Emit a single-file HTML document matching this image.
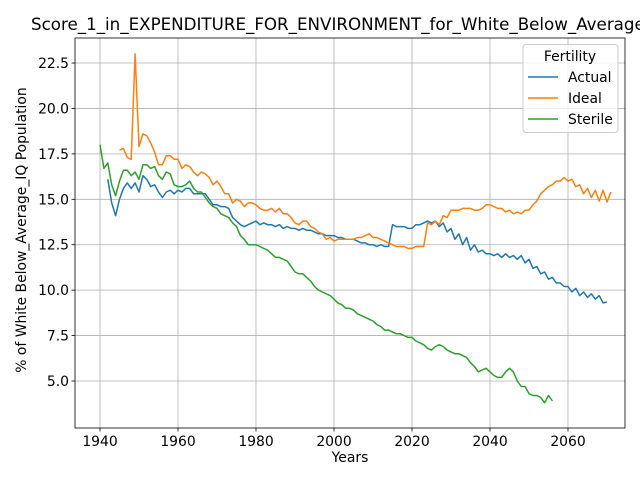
<!DOCTYPE html>
<html><head><meta charset="utf-8"><style>
body{margin:0;background:#fff;font-family:"Liberation Sans","DejaVu Sans",sans-serif;overflow:hidden}
svg text{font-family:"DejaVu Sans","Liberation Sans",sans-serif}
</style></head><body>
<svg id="chart" width="640" height="480" xmlns="http://www.w3.org/2000/svg">
<rect width="640" height="480" fill="#fff"/>
<g id="grid"></g><g id="series"></g><g id="axes"></g>
</svg>
<script>
const xTicks=[1940,1960,1980,2000,2020,2040,2060];
const yTicks=[5.0,7.5,10.0,12.5,15.0,17.5,20.0,22.5];
const actualStart=1942;
const actualValues=[16.1,14.8,14.1,15.0,15.6,15.9,15.6,15.9,15.4,16.3,16.1,15.7,15.8,15.4,15.1,15.4,15.5,15.3,15.5,15.4,15.6,15.6,15.3,15.3,15.3,15.3,15.0,14.7,14.7,14.6,14.6,14.5,14.0,13.8,13.6,13.5,13.6,13.7,13.8,13.6,13.7,13.6,13.6,13.5,13.6,13.4,13.5,13.4,13.4,13.3,13.4,13.3,13.3,13.2,13.1,13.1,13.0,13.0,13.0,12.9,12.9,12.8,12.8,12.8,12.7,12.6,12.6,12.5,12.5,12.4,12.5,12.4,12.4,13.6,13.5,13.5,13.5,13.4,13.4,13.6,13.6,13.7,13.8,13.7,13.8,13.5,13.7,13.2,13.4,12.8,13.1,12.5,12.9,12.2,12.5,12.1,12.2,12.0,12.0,11.9,12.0,11.8,12.0,11.8,11.9,11.7,11.9,11.5,11.7,11.2,11.3,10.9,11.0,10.6,10.7,10.4,10.4,10.2,10.2,9.9,10.1,9.7,9.9,9.6,9.8,9.5,9.7,9.3,9.35];
const idealStart=1945;
const idealValues=[17.7,17.8,17.3,17.2,23.0,17.9,18.6,18.5,18.1,17.6,16.9,16.9,17.4,17.4,17.2,17.2,16.7,16.9,16.8,16.5,16.3,16.5,16.4,16.2,15.8,16.0,15.7,15.3,15.3,14.8,15.0,14.9,14.6,14.8,14.8,14.7,14.5,14.4,14.4,14.5,14.3,14.5,14.2,14.2,14.0,13.7,13.6,13.8,13.8,13.5,13.4,13.2,13.1,12.8,12.9,12.7,12.8,12.8,12.8,12.8,12.8,12.9,12.9,13.0,13.1,12.9,12.9,12.8,12.7,12.6,12.5,12.4,12.4,12.4,12.3,12.3,12.4,12.4,12.4,13.7,13.6,13.8,13.6,14.1,14.0,14.4,14.4,14.4,14.5,14.5,14.5,14.4,14.4,14.5,14.7,14.7,14.6,14.5,14.5,14.3,14.4,14.2,14.3,14.2,14.4,14.4,14.7,14.9,15.3,15.5,15.7,15.8,16.0,16.0,16.2,16.0,16.1,15.7,15.8,15.3,15.6,15.1,15.5,14.9,15.5,14.85,15.4];
const sterileStart=1940;
const sterileValues=[18.0,16.7,17.0,15.8,15.2,16.0,16.6,16.6,16.3,16.5,16.1,16.9,16.9,16.7,16.8,16.3,16.1,16.5,16.4,15.8,15.7,15.7,15.8,16.0,15.6,15.4,15.4,15.1,14.8,14.6,14.5,14.2,14.1,14.0,13.7,13.5,13.0,12.8,12.5,12.5,12.5,12.4,12.3,12.2,12.0,11.8,11.8,11.7,11.6,11.3,11.0,10.9,10.9,10.7,10.5,10.2,10.0,9.9,9.8,9.7,9.5,9.3,9.2,9.0,9.0,8.9,8.7,8.6,8.5,8.4,8.3,8.1,8.0,7.8,7.8,7.7,7.6,7.6,7.5,7.4,7.4,7.2,7.1,7.0,6.8,6.7,6.9,7.0,6.9,6.7,6.6,6.5,6.5,6.4,6.3,6.0,5.8,5.5,5.6,5.7,5.5,5.3,5.2,5.2,5.5,5.7,5.5,5.0,4.7,4.7,4.3,4.2,4.2,4.1,3.8,4.2,3.9];

const L=75,R=625,T=38,B=428;
const X=y=>100+(y-1940)*3.9;
const Y=v=>381-(v-5)*18.17;
const NS='http://www.w3.org/2000/svg';
function mk(tag,attrs,parent,text){const e=document.createElementNS(NS,tag);for(const k in attrs)e.setAttribute(k,attrs[k]);if(text!==undefined)e.textContent=text;parent.appendChild(e);return e;}
const grid=document.getElementById('grid'),series=document.getElementById('series'),axes=document.getElementById('axes');
xTicks.forEach(t=>{
  const g=mk('line',{x1:X(t),x2:X(t),y1:T,y2:B,stroke:'#b0b0b0','stroke-width':0.8},grid);
  
  
  mk('line',{x1:X(t),x2:X(t),y1:B,y2:B+3.5,stroke:'#000','stroke-width':0.8},axes);
  const tx=mk('text',{x:X(t),y:B+18,'font-size':13.9,'text-anchor':'middle'},axes,String(t));
  
  
});
yTicks.forEach(t=>{
  const g=mk('line',{x1:L,x2:R,y1:Y(t),y2:Y(t),stroke:'#b0b0b0','stroke-width':0.8},grid);
  
  
  mk('line',{x1:L-3.5,x2:L,y1:Y(t),y2:Y(t),stroke:'#000','stroke-width':0.8},axes);
  const tx=mk('text',{x:L-6,y:Y(t)+5,'font-size':13.9,'text-anchor':'end'},axes,t.toFixed(1));
  
  
});
function line(start,vals,color,name){
  const pts=vals.map((v,i)=>X(start+i).toFixed(1)+','+Y(v).toFixed(1)).join(' ');
  const p=mk('polyline',{points:pts,fill:'none',stroke:color,'stroke-width':1.5,'stroke-linejoin':'round'},series);
  
  
}
line(actualStart,actualValues,'#1f77b4','actual-line');
line(idealStart,idealValues,'#ff7f0e','ideal-line');
line(sterileStart,sterileValues,'#2ca02c','sterile-line');
const frame=mk('rect',{x:L,y:T,width:R-L,height:B-T,fill:'none',stroke:'#000','stroke-width':0.8},axes);


</script>
<svg style="position:absolute;left:0;top:0" width="640" height="480" xmlns="http://www.w3.org/2000/svg">
<text x="31" y="30" font-size="16.7" style="font-family:'DejaVu Sans',sans-serif">Score_1_in_EXPENDITURE_FOR_ENVIRONMENT_for_White_Below_Average_IQ</text>
<text x="350" y="462" font-size="13.9" text-anchor="middle" style="font-family:'DejaVu Sans',sans-serif">Years</text>
<text transform="translate(26,230) rotate(-90)" font-size="13.9" text-anchor="middle" style="font-family:'DejaVu Sans',sans-serif">% of White Below_Average_IQ Population</text>
<g style="font-family:'DejaVu Sans',sans-serif">
<rect x="523" y="44.5" width="95" height="88" rx="3" fill="#fff" fill-opacity="0.8" stroke="#ccc"/>
<text x="570" y="61" font-size="13.9" text-anchor="middle">Fertility</text>
<g><line x1="528" x2="558" y1="77" y2="77" stroke="#1f77b4" stroke-width="1.5"/><text x="568" y="82" font-size="13.9">Actual</text></g>
<g><line x1="528" x2="558" y1="98" y2="98" stroke="#ff7f0e" stroke-width="1.5"/><text x="568" y="103" font-size="13.9">Ideal</text></g>
<g><line x1="528" x2="558" y1="119" y2="119" stroke="#2ca02c" stroke-width="1.5"/><text x="568" y="124" font-size="13.9">Sterile</text></g>
</g>
</svg>
</body></html>
